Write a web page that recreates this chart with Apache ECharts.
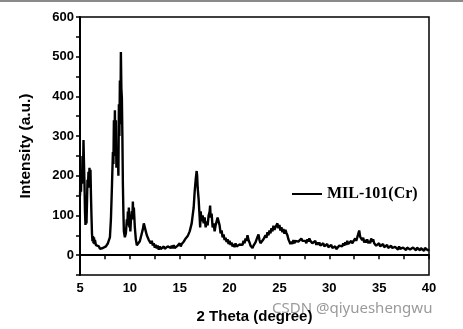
<!DOCTYPE html>
<html lang="en">
<head>
    <meta charset="UTF-8">
    <title>XRD MIL-101(Cr)</title>
    <script src="https://cdn.jsdelivr.net/npm/echarts@6.0.0/dist/echarts.min.js"></script>
    <style>
        body { margin: 0; background-color: #fff; }
    </style>
</head>
<body>
    <div id="main" style="width: 463px;height:329px;"></div>
    <script type="text/javascript">
        // [2 theta, intensity], split in three stretches
        const lowAngle = [
            [5.00, 150], [5.05, 190], [5.10, 160], [5.15, 215], [5.20, 180], [5.25, 250], [5.30, 200], [5.35, 290], [5.40, 230], [5.45, 180],
            [5.50, 110], [5.55, 76], [5.60, 95], [5.65, 80], [5.70, 130], [5.75, 190], [5.80, 175], [5.85, 210], [5.90, 170], [5.95, 220],
            [6.00, 200], [6.05, 215], [6.10, 150], [6.15, 100], [6.20, 55], [6.25, 35], [6.30, 48], [6.35, 30], [6.40, 45], [6.45, 28],
            [6.50, 38], [6.60, 25], [6.70, 30], [6.80, 20], [6.90, 22], [7.00, 16], [7.10, 18], [7.20, 14], [7.30, 18], [7.40, 15],
            [7.50, 20], [7.60, 22], [7.70, 25], [7.80, 30], [7.90, 38], [8.00, 45], [8.10, 90], [8.20, 170], [8.30, 260], [8.35, 230],
            [8.40, 340], [8.45, 270], [8.50, 365], [8.55, 250], [8.60, 340], [8.65, 220], [8.70, 270], [8.75, 230], [8.80, 260], [8.85, 200],
            [8.90, 380], [8.95, 300], [9.00, 440], [9.05, 330], [9.10, 512], [9.15, 420], [9.20, 395], [9.25, 300], [9.30, 180], [9.35, 110],
            [9.40, 60], [9.50, 45], [9.60, 55], [9.70, 90], [9.75, 75], [9.80, 110], [9.85, 85], [9.90, 120], [9.95, 70], [10.00, 95],
            [10.05, 60], [10.10, 85], [10.20, 110], [10.25, 90], [10.30, 135], [10.35, 100], [10.40, 120], [10.50, 70], [10.60, 40], [10.70, 25],
            [10.80, 30], [10.90, 22], [11.00, 35], [11.10, 40], [11.20, 55], [11.30, 65], [11.40, 80], [11.50, 70], [11.60, 60], [11.70, 50],
            [11.80, 45], [11.90, 38]
        ];
        const midAngle = [
            [12.0, 40], [12.1, 30], [12.2, 36], [12.3, 24], [12.4, 30], [12.5, 19], [12.6, 26], [12.7, 17], [12.8, 24], [12.9, 14],
            [13.0, 22], [13.1, 15], [13.2, 20], [13.3, 14], [13.4, 22], [13.5, 16], [13.6, 20], [13.7, 14], [13.8, 22], [13.9, 18],
            [14.0, 26], [14.1, 18], [14.2, 24], [14.3, 17], [14.4, 25], [14.5, 18], [14.6, 22], [14.7, 16], [14.8, 24], [14.9, 20],
            [15.0, 30], [15.1, 22], [15.2, 28], [15.3, 24], [15.4, 34], [15.5, 30], [15.6, 42], [15.7, 38], [15.8, 48], [15.9, 44],
            [16.00, 60], [16.10, 55], [16.20, 80], [16.30, 100], [16.40, 120], [16.50, 160], [16.60, 190], [16.70, 212], [16.75, 200], [16.80, 170],
            [16.90, 140], [17.00, 95], [17.05, 70], [17.10, 110], [17.20, 85], [17.30, 100], [17.40, 80], [17.50, 95], [17.60, 70], [17.70, 85],
            [17.80, 75], [17.90, 100], [18.00, 110], [18.05, 125], [18.10, 95], [18.20, 105], [18.30, 70], [18.40, 80], [18.50, 60], [18.60, 75],
            [18.70, 80], [18.80, 95], [18.90, 90]
        ];
        const highAngle = [
            [19.0, 75], [19.1, 55], [19.2, 62], [19.3, 45], [19.4, 52], [19.5, 38], [19.6, 44], [19.7, 33], [19.8, 40], [19.9, 28],
            [20.0, 36], [20.1, 26], [20.2, 32], [20.3, 22], [20.4, 28], [20.5, 20], [20.6, 30], [20.7, 22], [20.8, 26], [20.9, 18],
            [21.0, 27], [21.1, 22], [21.2, 32], [21.3, 26], [21.4, 36], [21.5, 30], [21.6, 42], [21.7, 36], [21.8, 50], [21.9, 38],
            [22.0, 32], [22.1, 24], [22.2, 28], [22.3, 18], [22.4, 24], [22.5, 20], [22.6, 32], [22.7, 28], [22.8, 46], [22.9, 52],
            [23.0, 38], [23.1, 30], [23.2, 34], [23.3, 28], [23.4, 40], [23.5, 36], [23.6, 50], [23.7, 44], [23.8, 58], [23.9, 50],
            [24.0, 62], [24.1, 55], [24.2, 68], [24.3, 60], [24.4, 74], [24.5, 64], [24.6, 70], [24.7, 66], [24.8, 80], [24.9, 68],
            [25.0, 76], [25.1, 62], [25.2, 70], [25.3, 58], [25.4, 66], [25.5, 54], [25.6, 64], [25.7, 56], [25.8, 50], [25.9, 40],
            [26.0, 34], [26.1, 28], [26.2, 34], [26.3, 28], [26.4, 38], [26.5, 30], [26.6, 36], [26.7, 32], [26.8, 40], [26.9, 34],
            [27.0, 38], [27.1, 32], [27.2, 42], [27.3, 36], [27.4, 40], [27.5, 32], [27.6, 36], [27.7, 30], [27.8, 40], [27.9, 34],
            [28.0, 42], [28.1, 36], [28.2, 40], [28.3, 30], [28.4, 34], [28.5, 28], [28.6, 36], [28.7, 26], [28.8, 32], [28.9, 26],
            [29.0, 32], [29.1, 24], [29.2, 28], [29.3, 22], [29.4, 30], [29.5, 22], [29.6, 26], [29.7, 20], [29.8, 28], [29.9, 20],
            [30.0, 24], [30.1, 18], [30.2, 26], [30.3, 18], [30.4, 22], [30.5, 16], [30.6, 22], [30.7, 15], [30.8, 20], [30.9, 18],
            [31.0, 24], [31.1, 20], [31.2, 28], [31.3, 22], [31.4, 30], [31.5, 24], [31.6, 32], [31.7, 26], [31.8, 36], [31.9, 28],
            [32.0, 32], [32.1, 26], [32.2, 36], [32.3, 30], [32.4, 34], [32.5, 30], [32.6, 42], [32.7, 36], [32.8, 44], [32.9, 40],
            [33.0, 62], [33.1, 46], [33.2, 50], [33.3, 38], [33.4, 44], [33.5, 32], [33.6, 38], [33.7, 32], [33.8, 40], [33.9, 30],
            [34.0, 36], [34.1, 30], [34.2, 42], [34.3, 34], [34.4, 40], [34.5, 30], [34.6, 32], [34.7, 24], [34.8, 28], [34.9, 22],
            [35.0, 30], [35.1, 22], [35.2, 26], [35.3, 20], [35.4, 28], [35.5, 20], [35.6, 24], [35.7, 18], [35.8, 26], [35.9, 18],
            [36.0, 22], [36.1, 16], [36.2, 24], [36.3, 18], [36.4, 22], [36.5, 15], [36.6, 21], [36.7, 16], [36.8, 20], [36.9, 14],
            [37.0, 22], [37.1, 16], [37.2, 20], [37.3, 14], [37.4, 19], [37.5, 15], [37.6, 20], [37.7, 13], [37.8, 19], [37.9, 15],
            [38.0, 21], [38.1, 14], [38.2, 18], [38.3, 13], [38.4, 19], [38.5, 14], [38.6, 18], [38.7, 12], [38.8, 19], [38.9, 14],
            [39.0, 17], [39.1, 12], [39.2, 18], [39.3, 13], [39.4, 17], [39.5, 11], [39.6, 18], [39.7, 13], [39.8, 16], [39.9, 12],
            [40.0, 15]
        ];
        const yTicks = [0, 100, 200, 300, 400, 500, 600];

        const points = lowAngle.concat(midAngle, highAngle);
        const labelFont = { color: '#000', fontWeight: 'bold', fontSize: 13, fontFamily: 'Liberation Sans' };

        let options = {
            animation: false,
            grid: { left: 80, right: 34, top: 17, bottom: 52, show: true, borderColor: '#000', borderWidth: 1.5 },
            legend: {
                left: 287, top: 181,
                icon: 'rect', itemWidth: 30, itemHeight: 2, itemGap: 2,
                textStyle: { fontFamily: 'Liberation Serif', fontWeight: 'bold', fontSize: 16, color: '#000' },
                data: ['MIL-101(Cr)']
            },
            xAxis: {
                type: 'value', min: 5, max: 40, interval: 5,
                name: '2 Theta (degree)', nameLocation: 'middle', nameGap: 34,
                nameTextStyle: { color: '#000', fontWeight: 'bold', fontSize: 15, fontFamily: 'Liberation Sans' },
                axisLine: { lineStyle: { color: '#000', width: 2 } },
                axisTick: { inside: false, length: 4, lineStyle: { color: '#000', width: 1.5 } },
                minorTick: { show: true, splitNumber: 2, length: 4, lineStyle: { color: '#000', width: 1.5 } },
                splitLine: { show: false },
                axisLabel: Object.assign({ margin: 7 }, labelFont)
            },
            yAxis: {
                type: 'value', min: -50, max: 600, interval: 50,
                name: 'Intensity (a.u.)', nameLocation: 'middle', nameGap: 46,
                nameTextStyle: { color: '#000', fontWeight: 'bold', fontSize: 15.5, fontFamily: 'Liberation Sans' },
                axisLine: { lineStyle: { color: '#000', width: 2 } },
                axisTick: { inside: false, length: 4, lineStyle: { color: '#000', width: 1.5 } },
                splitLine: { show: false },
                axisLabel: Object.assign({
                    margin: 6,
                    formatter: (v) => yTicks.includes(v) ? String(v) : ''
                }, labelFont)
            },
            series: [{
                name: 'MIL-101(Cr)', type: 'line', data: points,
                showSymbol: false, symbol: 'none',
                lineStyle: { color: '#000', width: 2.4 },
                itemStyle: { color: '#000' }
            }],
            graphic: [
                { type: 'rect', left: 0, top: 0, shape: { width: 463, height: 2 }, style: { fill: '#8a8a8a' } },
                {
                    type: 'text', left: 272, top: 301,
                    style: { text: 'CSDN @qiyueshengwu', fill: 'rgba(120,120,120,0.75)', fontSize: 15, fontFamily: 'Noto Sans' }
                }
            ]
        };

        let myChart = echarts.init(document.getElementById('main'));
        myChart.setOption(options);
    </script>
</body>
</html>
